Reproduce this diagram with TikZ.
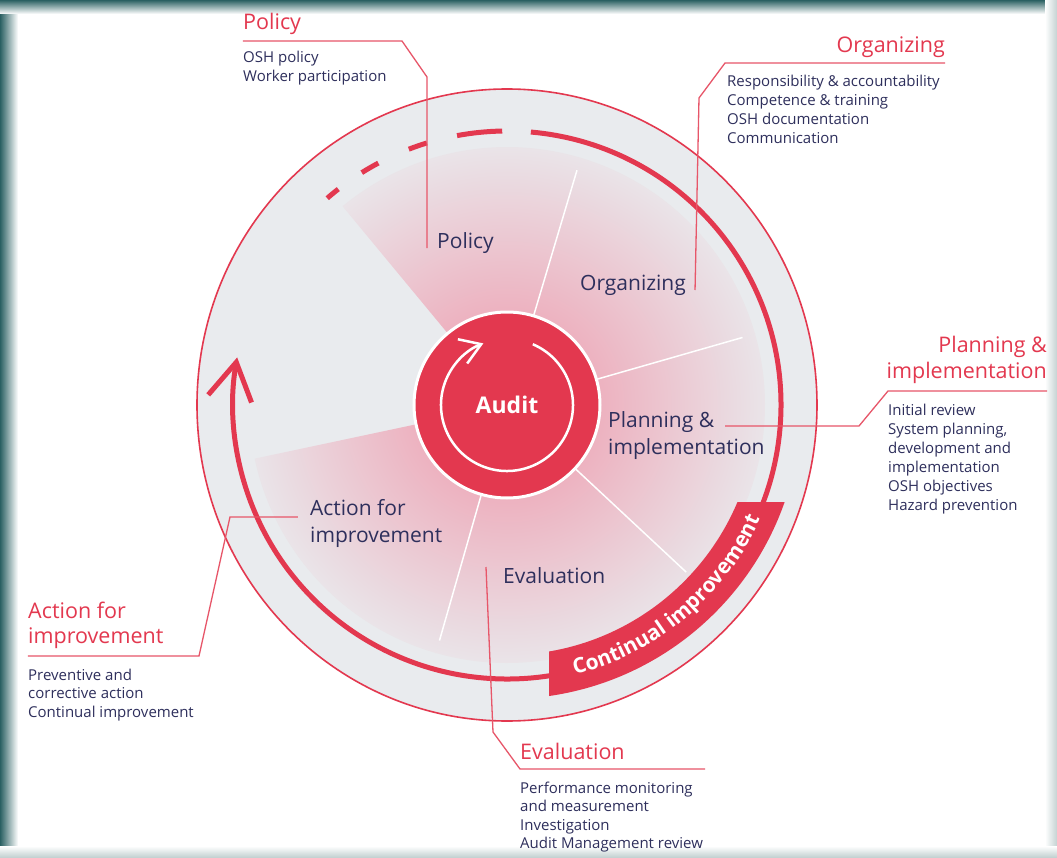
\documentclass[tikz,border=0pt]{standalone}
\usepackage{fontspec}
\setmainfont{Open Sans}
\usetikzlibrary{arrows.meta,decorations.text}

\definecolor{oshred}{RGB}{227,56,79}
\definecolor{oshnavy}{RGB}{46,47,92}
\definecolor{discgrey}{RGB}{233,235,238}
\definecolor{secpink}{RGB}{237,178,192}
\definecolor{frameteal}{RGB}{42,96,98}
\definecolor{framelight}{RGB}{196,210,210}

\pgfdeclareradialshading{sectorfade}{\pgfpointorigin}{color(0bp)=(secpink); color(9bp)=(secpink); color(27bp)=(discgrey); color(50bp)=(discgrey)}

\begin{document}
\begin{tikzpicture}[x=1pt, y=1pt,
    leader/.style={draw=oshred!85, line width=1.3pt},
    cyclearc/.style={draw=oshred, line width=5pt},
    sectorlabel/.style={text=oshnavy, font=\fontsize{21}{26.5}\selectfont, align=left, inner sep=0pt, anchor=base west},
    headlabel/.style={text=oshred, font=\fontsize{21.5}{26}\selectfont, inner sep=0pt},
    detail/.style={text=oshnavy, font=\fontsize{15}{19}\selectfont, align=left, inner sep=0pt, anchor=base west}]

    \useasboundingbox (-507,-452) rectangle (550,405);

    % frame
    \fill[white] (-507,-452) rectangle (550,405);
    \shade[left color=frameteal, right color=white] (-507,-452) rectangle (-489,405);
    \shade[top color=frameteal, bottom color=white] (-507,391) rectangle (550,405);
    \shade[left color=white, right color=framelight] (538,-452) rectangle (550,405);
    \shade[top color=white, bottom color=framelight] (-507,-452) rectangle (550,-441);

    % disc and sectors
    \filldraw[fill=discgrey, draw=oshred, line width=1.6pt] (0,0) ellipse[x radius=310, y radius=316];
    \foreach \a/\b in {73.4/129.6, 16/73.4, -43/16, -106/-43, -168/-106} {
        \begin{scope}
            \clip (0,0) -- (\a:258) arc[start angle=\a, end angle=\b, radius=258] -- cycle;
            \shade[shading=sectorfade] (0,0) circle[radius=260];
        \end{scope}
    }
    \foreach \a in {73.4, 16, -43, -106}
        \draw[white, line width=1.5pt] (\a:93) -- (\a:245);

    % continual improvement cycle
    \foreach \a/\b in {131/128, 122/118, 111/107, 100.5/91}
        \draw[cyclearc] (\a:274) arc[start angle=\a, end angle=\b, radius=274];
    \draw[cyclearc, -{Straight Barb[length=37pt, width=44pt]}] (85:274) arc[start angle=85, end angle=-190, radius=274];

    \begin{scope}
        \clip (42,-97) rectangle (320,-320);
        \fill[oshred, even odd rule] (0,0) circle[radius=294] (0,0) circle[radius=250];
    \end{scope}
    \path[decorate, decoration={text along path, text color=white, text align=center,
        text={|\bfseries\fontsize{21}{25}\selectfont|Continual improvement}}]
        (-78:278) arc[start angle=-78, end angle=-22, radius=278];

    % audit
    \node[circle, fill=oshred, draw=white, line width=3pt, minimum size=186pt, inner sep=0pt,
        text=white, font=\bfseries\fontsize{23}{28}\selectfont] (audit) at (0,0) {Audit};
    \draw[white, line width=2.5pt, -{Straight Barb[length=20pt, width=26pt]}] (67:66) arc[start angle=67, end angle=-249, radius=66];

    % sector labels (base = last line)
    \node[sectorlabel] (policy) at (-70,157) {Policy};
    \node[sectorlabel] (organizing) at (73,115) {Organizing};
    \node[sectorlabel] (planning) at (101,-49) {Planning \&\\implementation};
    \node[sectorlabel] (evaluation) at (-4,-178) {Evaluation};
    \node[sectorlabel] (action) at (-197,-137) {Action for\\improvement};

    % outside headings and texts
    \node[headlabel, anchor=base west] (policyhead) at (-264,375) {Policy};
    \node[detail] (policytext) at (-264,323) {OSH policy\\Worker participation};

    \node[headlabel, anchor=base east] (orghead) at (438,352) {Organizing};
    \node[detail] (orgtext) at (220,261) {Responsibility \& accountability\\Competence \& training\\OSH documentation\\Communication};

    \node[headlabel, anchor=base east, align=right] (planhead) at (540,27) {Planning \&\\implementation};
    \node[detail] (plantext) at (381,-105) {Initial review\\System planning,\\development and\\implementation\\OSH objectives\\Hazard prevention};

    \node[headlabel, anchor=base west] (evalhead) at (13,-354) {Evaluation};
    \node[detail, font=\fontsize{15}{18.5}\selectfont] (evaltext) at (13,-443.5) {Performance monitoring\\and measurement\\Investigation\\Audit Management review};

    \node[headlabel, anchor=base west, align=left, font=\fontsize{21.5}{25}\selectfont] (acthead) at (-479,-238) {Action for\\improvement};
    \node[detail, font=\fontsize{15}{18.5}\selectfont] (acttext) at (-479,-312) {Preventive and\\corrective action\\Continual improvement};

    % leader lines
    \coordinate (planend) at (218,-21);
    \coordinate (actend) at (-209,-112);

    \draw[leader] ([yshift=-11pt]policyhead.base west) -- ++(159,0) -- ++(25,-36) -- ([xshift=-10pt]policy.base west);
    \draw[leader] ([yshift=-10pt]orghead.base east) -- ++(-220,0) -- ++(-26,-35) -- ([xshift=9pt]organizing.base east);
    \draw[leader] ([yshift=-13pt]planhead.base east) -- ++(-159,0) -- ++(-29,-35) -- (planend);
    \draw[leader] ([xshift=-17pt, yshift=16pt]evaluation.base west) -- (-14,-327) -- ([yshift=-10pt]evalhead.base west) -- ++(185,0);
    \draw[leader] ([yshift=-13pt]acthead.base west) -- ++(171,0) -- ++(31,139) -- (actend);

\end{tikzpicture}
\end{document}
